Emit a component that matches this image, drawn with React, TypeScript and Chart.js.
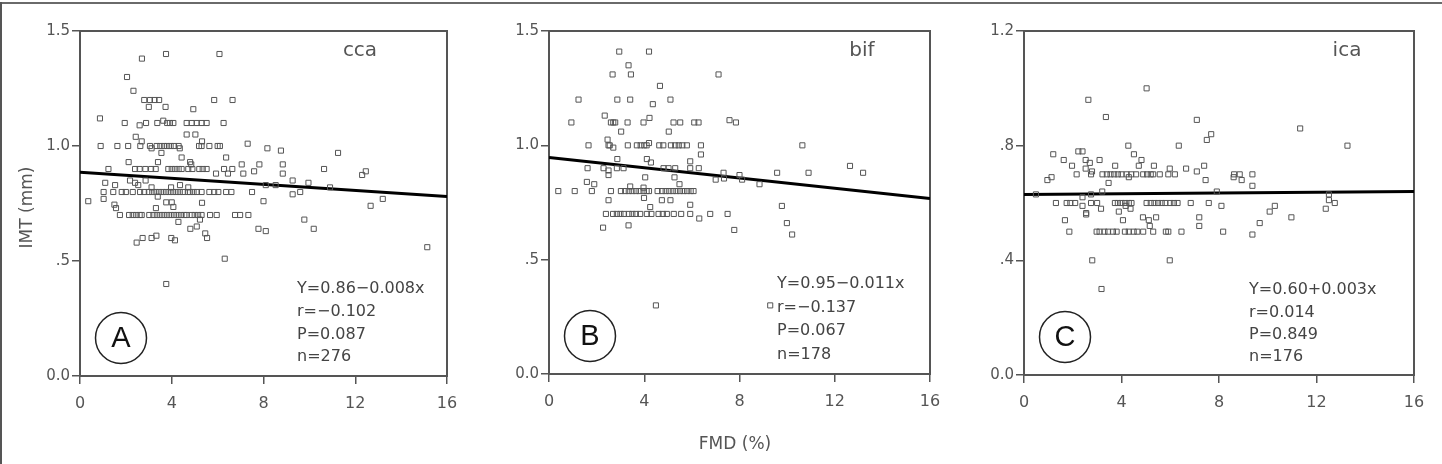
import React, { useEffect, useRef } from 'react';
import { Chart, registerables } from 'chart.js';
Chart.register(...registerables);

// ---------- data ----------
const xTickValues = [0, 4, 8, 12, 16];
const yTickValuesAB = [0, 0.5, 1.0, 1.5];
const yTickLabelsAB = ['0.0', '.5', '1.0', '1.5'];
const yTickValuesC = [0, 0.4, 0.8, 1.2];
const yTickLabelsC = ['0.0', '.4', '.8', '1.2'];

const ccaPoints: [number, number][] = [
  [2.7,1.38],[3.75,1.40],[6.08,1.40],[2.05,1.30],[2.33,1.24],
  [2.8,1.20],[3.05,1.20],[3.25,1.20],[3.45,1.20],[5.85,1.20],[6.65,1.20],
  [3.0,1.17],[3.73,1.17],[4.94,1.16],[0.87,1.12],
  [1.95,1.10],[2.6,1.09],[2.88,1.10],[3.37,1.10],[3.63,1.11],[3.8,1.10],[3.92,1.10],[4.07,1.10],[4.65,1.10],[4.87,1.10],[5.09,1.10],[5.3,1.10],[5.52,1.10],[6.26,1.10],
  [2.43,1.04],[2.69,1.02],[4.65,1.05],[5.03,1.05],[5.32,1.02],
  [0.9,1.0],[1.63,1.0],[2.1,1.0],[2.63,1.0],[3.05,1.0],[3.12,0.99],[3.34,1.0],[3.5,1.0],[3.66,1.0],[3.8,1.0],[3.95,1.0],[4.1,1.0],[4.3,1.0],[4.35,0.99],[5.19,1.0],[5.3,1.0],[5.64,1.0],[6.0,1.0],[6.1,1.0],[7.31,1.01],[8.17,0.99],
  [3.55,0.97],[4.43,0.95],[6.37,0.95],[8.76,0.98],[11.25,0.97],
  [2.12,0.93],[3.4,0.93],[4.8,0.93],[4.85,0.92],[7.05,0.92],[7.82,0.92],[8.84,0.92],
  [1.24,0.90],[2.4,0.90],[2.6,0.90],[2.85,0.90],[3.1,0.90],[3.3,0.90],[3.85,0.90],[4.0,0.90],[4.15,0.90],[4.3,0.90],[4.43,0.90],[4.72,0.90],[4.9,0.90],[5.2,0.90],[5.35,0.90],[5.52,0.90],[6.28,0.90],[6.64,0.90],[10.64,0.90],
  [5.93,0.88],[6.45,0.88],[7.12,0.88],[7.59,0.89],[8.84,0.88],[12.3,0.874],[12.46,0.89],
  [1.1,0.84],[1.53,0.83],[2.18,0.85],[2.4,0.84],[2.54,0.83],[2.86,0.85],[3.12,0.82],[3.97,0.82],[4.36,0.83],[4.72,0.82],[8.1,0.83],[8.53,0.83],[9.27,0.85],[9.96,0.84],[10.9,0.82],
  [1.03,0.80],[1.45,0.80],[1.82,0.80],[2.0,0.80],[2.3,0.80],[2.62,0.80],[2.8,0.80],[3.0,0.80],[3.15,0.80],[3.3,0.80],[3.45,0.80],[3.6,0.80],[3.75,0.80],[3.9,0.80],[4.05,0.80],[4.2,0.80],[4.35,0.80],[4.5,0.80],[4.7,0.80],[4.8,0.80],[4.95,0.80],[5.1,0.80],[5.3,0.80],[5.64,0.80],[5.85,0.80],[6.03,0.80],[6.37,0.80],[6.6,0.80],[7.5,0.80],[9.27,0.79],[9.6,0.80],
  [0.36,0.76],[1.03,0.77],[3.39,0.78],[3.76,0.755],[4.0,0.755],[4.07,0.735],[5.32,0.753],[8.0,0.76],[13.2,0.77],[12.67,0.74],
  [1.5,0.745],[1.57,0.73],[3.31,0.73],
  [1.74,0.70],[2.14,0.70],[2.3,0.70],[2.45,0.70],[2.6,0.70],[2.69,0.70],[3.02,0.70],[3.2,0.70],[3.35,0.70],[3.5,0.70],[3.65,0.70],[3.8,0.70],[3.95,0.70],[4.1,0.70],[4.25,0.70],[4.4,0.70],[4.55,0.70],[4.65,0.70],[4.87,0.70],[5.0,0.70],[5.15,0.70],[5.3,0.70],[5.67,0.70],[5.96,0.70],[6.76,0.70],[6.98,0.70],[7.34,0.70],
  [4.29,0.67],[5.23,0.68],[9.78,0.68],[10.19,0.64],[7.78,0.64],[8.1,0.63],[4.81,0.64],[5.09,0.65],[5.46,0.62],[5.54,0.60],
  [2.73,0.60],[3.12,0.60],[3.33,0.61],[3.98,0.60],[4.14,0.59],[2.47,0.58],
  [6.31,0.51],[3.76,0.40],[15.14,0.56],
];
const ccaFit: [number, number][] = [[0, 0.886], [16, 0.78]];
const ccaStats = ['Y=0.86\u22120.008x', 'r=\u22120.102', 'P=0.087', 'n=276'];

const bifPoints: [number, number][] = [
  [2.95,1.41],[4.2,1.41],[3.34,1.35],[2.67,1.31],[3.44,1.31],[7.12,1.31],[4.66,1.26],
  [1.24,1.20],[2.87,1.20],[3.41,1.20],[5.1,1.20],[4.36,1.18],[2.34,1.13],[4.22,1.12],
  [0.94,1.10],[2.6,1.10],[2.7,1.10],[2.78,1.10],[3.3,1.10],[3.97,1.10],[5.23,1.10],[5.51,1.10],[6.1,1.10],[6.28,1.10],[7.58,1.11],[7.85,1.10],
  [3.03,1.06],[5.03,1.06],[2.46,1.025],
  [1.66,1.0],[2.5,1.0],[2.55,1.0],[2.7,0.99],[3.31,1.0],[3.69,1.0],[3.85,1.0],[4.0,1.0],[4.1,1.0],[4.2,1.01],[4.63,1.0],[4.8,1.0],[5.12,1.0],[5.3,1.0],[5.45,1.0],[5.6,1.0],[5.79,1.0],[6.38,1.0],[10.64,1.0],
  [6.38,0.96],[2.87,0.94],[4.11,0.94],[4.28,0.925],[5.93,0.93],[12.64,0.91],
  [1.62,0.90],[2.29,0.90],[2.5,0.89],[2.85,0.90],[3.13,0.90],[4.81,0.90],[5.02,0.90],[5.3,0.90],[5.93,0.90],[6.29,0.90],
  [5.27,0.86],[4.04,0.86],[2.5,0.87],[7.33,0.88],[8.0,0.87],[9.58,0.88],[10.9,0.88],[13.19,0.88],[7.0,0.85],[7.35,0.855],[8.11,0.85],[8.84,0.83],
  [1.59,0.84],[1.9,0.83],[3.41,0.82],[5.48,0.83],[3.97,0.815],
  [0.39,0.80],[1.08,0.80],[1.8,0.80],[2.6,0.80],[3.02,0.80],[3.2,0.80],[3.35,0.80],[3.5,0.80],[3.65,0.80],[3.8,0.80],[3.97,0.80],[4.1,0.80],[4.2,0.80],[4.56,0.80],[4.75,0.80],[4.9,0.80],[5.05,0.80],[5.2,0.80],[5.35,0.80],[5.5,0.80],[5.65,0.80],[5.8,0.80],[5.95,0.80],[6.07,0.80],
  [2.5,0.76],[3.99,0.77],[4.74,0.76],[5.1,0.76],[5.93,0.74],[4.25,0.73],[9.78,0.735],
  [2.39,0.70],[2.69,0.70],[2.85,0.70],[3.0,0.70],[3.15,0.70],[3.35,0.70],[3.5,0.70],[3.65,0.70],[3.83,0.70],[4.11,0.70],[4.3,0.70],[4.6,0.70],[4.78,0.70],[4.95,0.70],[5.24,0.70],[5.55,0.70],[5.93,0.70],[6.77,0.70],[7.5,0.70],
  [6.31,0.68],[3.34,0.65],[2.27,0.64],[7.78,0.63],[9.99,0.66],[10.21,0.61],
  [4.49,0.30],[9.29,0.30],
];
const bifFit: [number, number][] = [[0, 0.947], [16, 0.768]];
const bifStats = ['Y=0.95\u22120.011x', 'r=\u22120.137', 'P=0.067', 'n=178'];

const icaPoints: [number, number][] = [
  [5.03,1.0],[2.64,0.96],[3.36,0.90],[7.09,0.89],[11.33,0.86],[7.68,0.84],[7.5,0.82],[13.27,0.80],[4.28,0.80],[6.35,0.80],
  [1.2,0.77],[2.23,0.78],[2.4,0.78],[4.51,0.77],[1.63,0.75],[2.53,0.75],[2.7,0.74],[3.1,0.75],[4.82,0.75],[1.97,0.73],[3.74,0.73],[4.71,0.73],[5.33,0.73],[7.39,0.73],[2.53,0.72],[6.65,0.72],[7.09,0.71],[5.98,0.72],[2.79,0.71],
  [0.96,0.68],[1.13,0.69],
  [2.16,0.70],[2.75,0.70],[3.22,0.70],[3.4,0.70],[3.55,0.70],[3.7,0.70],[3.85,0.70],[4.0,0.70],[4.21,0.70],[4.4,0.70],[4.6,0.70],[4.89,0.70],[5.05,0.70],[5.2,0.70],[5.3,0.70],[5.57,0.70],[5.92,0.70],[6.19,0.70],[8.62,0.70],[8.85,0.70],[9.37,0.70],
  [3.47,0.67],[4.3,0.69],[7.45,0.68],[8.93,0.68],[8.6,0.69],[9.37,0.66],
  [0.49,0.63],[3.21,0.64],[2.4,0.62],[2.75,0.63],[7.91,0.64],[12.51,0.63],[12.51,0.61],
  [1.31,0.60],[1.75,0.60],[1.9,0.60],[2.1,0.60],[2.75,0.60],[3.0,0.60],[3.73,0.60],[3.85,0.60],[4.0,0.60],[4.15,0.60],[4.3,0.60],[4.41,0.60],[5.03,0.60],[5.2,0.60],[5.35,0.60],[5.5,0.60],[5.65,0.60],[5.8,0.60],[6.0,0.60],[6.15,0.60],[6.3,0.60],[6.84,0.60],[7.58,0.60],[12.75,0.60],
  [2.4,0.59],[8.1,0.59],[10.29,0.59],[12.38,0.58],[4.17,0.59],[4.37,0.58],[3.16,0.58],[10.08,0.57],[3.89,0.57],
  [2.55,0.565],[2.55,0.56],[5.42,0.55],[7.19,0.55],[10.97,0.55],[4.88,0.55],[5.12,0.54],[1.68,0.54],[4.06,0.54],[5.16,0.52],[7.19,0.52],[9.67,0.53],
  [1.86,0.50],[2.98,0.50],[3.1,0.50],[3.3,0.50],[3.45,0.50],[3.65,0.50],[3.8,0.50],[4.14,0.50],[4.3,0.50],[4.5,0.50],[4.65,0.50],[4.89,0.50],[5.3,0.50],[5.82,0.50],[5.92,0.50],[6.46,0.50],[8.17,0.50],[9.37,0.49],
  [2.8,0.40],[5.98,0.40],[3.18,0.30],
];
const icaFit: [number, number][] = [[0, 0.63], [16, 0.64]];
const icaStats = ['Y=0.60+0.003x', 'r=0.014', 'P=0.849', 'n=176'];

const panelTags = ['cca', 'bif', 'ica'];
const panelLetters = ['A', 'B', 'C'];
const yTitle = 'IMT (mm)';
const xTitle = 'FMD (%)';

// ---------- layout / style ----------
const W = 1442;
const H = 464;
const FONT = '"DejaVu Sans", "Liberation Sans", sans-serif';
const AXIS_W = 60;
const AXIS_H = 40;

type PanelCfg = {
  points: [number, number][];
  fit: [number, number][];
  stats: string[];
  tag: string;
  letter: string;
  yMax: number;
  yTicks: number[];
  yLabels: string[];
  area: { l: number; t: number; r: number; b: number };
  tagDx: number;
  statsDx: number;
  statsDy: number;
  statsGap: number;
  titles: boolean;
};

const panels: PanelCfg[] = [
  { points: ccaPoints, fit: ccaFit, stats: ccaStats, tag: panelTags[0], letter: panelLetters[0], yMax: 1.5,
    yTicks: yTickValuesAB, yLabels: yTickLabelsAB, area: { l: 80, t: 31, r: 447, b: 376 },
    tagDx: 87, statsDx: 217, statsDy: 87, statsGap: 22.7, titles: true },
  { points: bifPoints, fit: bifFit, stats: bifStats, tag: panelTags[1], letter: panelLetters[1], yMax: 1.5,
    yTicks: yTickValuesAB, yLabels: yTickLabelsAB, area: { l: 549, t: 31, r: 930, b: 374 },
    tagDx: 68, statsDx: 228, statsDy: 90, statsGap: 23.6, titles: false },
  { points: icaPoints, fit: icaFit, stats: icaStats, tag: panelTags[2], letter: panelLetters[2], yMax: 1.2,
    yTicks: yTickValuesC, yLabels: yTickLabelsC, area: { l: 1024, t: 31, r: 1414, b: 375 },
    tagDx: 67, statsDx: 225, statsDy: 85, statsGap: 22.4, titles: false },
];

function makeDecor(p: PanelCfg) {
  return {
    id: 'decor' + p.letter,
    beforeDatasetsDraw(chart: any) {
      const { ctx, chartArea: a } = chart;
      ctx.save();
      ctx.strokeStyle = '#555';
      ctx.lineWidth = 2;
      ctx.strokeRect(a.left, a.top, a.right - a.left, a.bottom - a.top);
      ctx.restore();
    },
    afterDraw(chart: any) {
      const { ctx, chartArea: a } = chart;
      ctx.save();
      // panel tag
      ctx.fillStyle = '#555';
      ctx.font = `20px ${FONT}`;
      ctx.textAlign = 'center';
      ctx.textBaseline = 'middle';
      ctx.fillText(p.tag, a.right - p.tagDx, a.top + 20);
      // stats
      ctx.fillStyle = '#444';
      ctx.font = `16px ${FONT}`;
      ctx.textAlign = 'left';
      p.stats.forEach((s, i) => {
        ctx.fillText(s, a.left + p.statsDx, a.bottom - p.statsDy + i * p.statsGap);
      });
      // circled letter
      const cx = a.left + 41;
      const cy = a.bottom - 38;
      ctx.beginPath();
      ctx.arc(cx, cy, 25.5, 0, Math.PI * 2);
      ctx.strokeStyle = '#222';
      ctx.lineWidth = 1.5;
      ctx.stroke();
      ctx.fillStyle = '#111';
      ctx.font = `29px "Liberation Sans", Arial, sans-serif`;
      ctx.textAlign = 'center';
      ctx.fillText(p.letter, cx, cy + 1);
      if (p.titles) {
        ctx.fillStyle = '#555';
        ctx.font = `17px ${FONT}`;
        ctx.save();
        ctx.translate(28, (a.top + a.bottom) / 2 + 4);
        ctx.rotate(-Math.PI / 2);
        ctx.textAlign = 'center';
        ctx.fillText(yTitle, 0, 0);
        ctx.restore();
      }
      ctx.restore();
    },
  };
}

function Panel({ p }: { p: PanelCfg }) {
  const ref = useRef<HTMLCanvasElement>(null);
  useEffect(() => {
    if (!ref.current) return;
    const chart = new Chart(ref.current, {
      type: 'scatter',
      data: {
        datasets: [
          {
            data: p.points.map(([x, y]) => ({ x, y })),
            pointStyle: 'rect',
            pointRadius: 3.6,
            borderColor: '#555',
            backgroundColor: 'rgba(0,0,0,0)',
            borderWidth: 1,
          },
          {
            data: p.fit.map(([x, y]) => ({ x, y })),
            showLine: true,
            borderColor: '#000',
            borderWidth: 3,
            pointRadius: 0,
          } as any,
        ],
      },
      options: {
        animation: false,
        responsive: false,
        events: [],
        layout: {
          padding: {
            left: p.area.l - AXIS_W,
            top: p.area.t,
            right: W - p.area.r,
            bottom: H - p.area.b - AXIS_H,
          },
        },
        plugins: { legend: { display: false }, tooltip: { enabled: false } },
        scales: {
          x: {
            type: 'linear',
            min: 0,
            max: 16,
            afterBuildTicks: (axis: any) => { axis.ticks = xTickValues.map((v) => ({ value: v })); },
            afterFit: (axis: any) => { axis.height = AXIS_H; },
            ticks: { color: '#555', font: { family: FONT, size: 16 }, padding: 10, maxRotation: 0, autoSkip: false, callback: (v: any) => String(v) },
            grid: { drawOnChartArea: false, drawTicks: true, tickLength: 8, color: '#555', lineWidth: 1.5 },
            border: { display: false },
          },
          y: {
            type: 'linear',
            min: 0,
            max: p.yMax,
            afterBuildTicks: (axis: any) => { axis.ticks = p.yTicks.map((v) => ({ value: v })); },
            afterFit: (axis: any) => { axis.width = AXIS_W; },
            ticks: {
              color: '#555', font: { family: FONT, size: 15 }, padding: 2, autoSkip: false,
              callback: (_v: any, i: number) => p.yLabels[i],
            },
            grid: { drawOnChartArea: false, drawTicks: true, tickLength: 8, color: '#555', lineWidth: 1.5 },
            border: { display: false },
          },
        },
      },
      plugins: [makeDecor(p)],
    });
    return () => chart.destroy();
  }, [p]);
  return (
    <canvas ref={ref} width={W} height={H} style={{ position: 'absolute', left: 0, top: 0, width: W, height: H }} />
  );
}

export default function App() {
  return (
    <div style={{ position: 'absolute', left: 0, top: 0, width: W, height: H, background: '#fff', overflow: 'hidden' }}>
      <div style={{ position: 'absolute', left: 0, top: 2, width: W, height: 2, background: '#6a6a6a' }} />
      <div style={{ position: 'absolute', left: 0, top: 2, width: 2, height: H - 2, background: '#555' }} />
      {panels.map((p) => (
        <Panel key={p.letter} p={p} />
      ))}
      <div
        style={{
          position: 'absolute', left: 735, top: 443, transform: 'translate(-50%, -50%)',
          fontFamily: FONT, fontSize: 17, color: '#555', whiteSpace: 'nowrap',
        }}
      >
        {xTitle}
      </div>
    </div>
  );
}
